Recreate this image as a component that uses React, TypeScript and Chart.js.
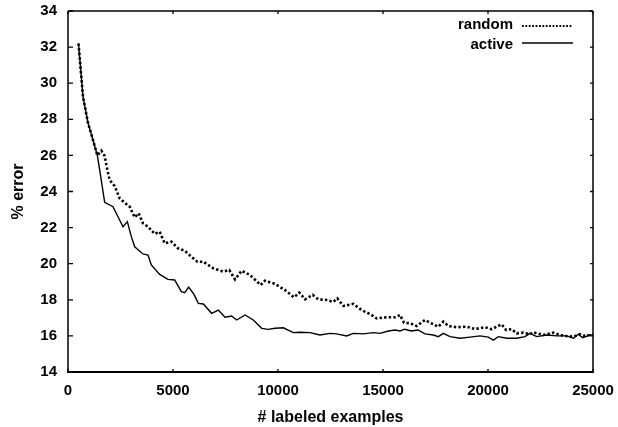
import React, { useEffect, useRef } from "react";
import { Chart, registerables } from "chart.js";

Chart.register(...registerables);

const xTicks = [0, 5000, 10000, 15000, 20000, 25000];
const yTicks = [14, 16, 18, 20, 22, 24, 26, 28, 30, 32, 34];

const randomX = [500, 714, 952, 1190, 1397, 1587, 1746, 1873, 1984, 2222, 2460, 2698, 2936, 3175, 3365, 3571, 3810, 4127, 4365, 4603, 4921, 5238, 5556, 5873, 6159, 6444, 6921, 7397, 7683, 7952, 8270, 8667, 9175, 9381, 9857, 10333, 10762, 11016, 11286, 11651, 11921, 12317, 12635, 12825, 13111, 13587, 13984, 14381, 14698, 15175, 15571, 15810, 16000, 16286, 16603, 17000, 17397, 17635, 17873, 18111, 18508, 18984, 19381, 19857, 20175, 20413, 20651, 20857, 21127, 21365, 21683, 22000, 22159, 22635, 23111, 23587, 24063, 24381, 24540, 24857, 25000];
const randomY = [32.2, 29.25, 27.8, 26.85, 26.0, 26.26, 25.97, 25.2, 24.64, 24.3, 23.62, 23.38, 23.16, 22.57, 22.79, 22.24, 22.05, 21.65, 21.77, 21.13, 21.22, 20.85, 20.72, 20.39, 20.11, 20.11, 19.74, 19.56, 19.65, 19.13, 19.61, 19.37, 18.82, 19.06, 18.88, 18.54, 18.14, 18.4, 18.03, 18.27, 18.03, 17.99, 17.88, 18.08, 17.66, 17.77, 17.43, 17.21, 16.97, 17.03, 17.03, 17.16, 16.73, 16.7, 16.55, 16.88, 16.64, 16.51, 16.79, 16.55, 16.48, 16.51, 16.38, 16.48, 16.37, 16.51, 16.64, 16.33, 16.37, 16.14, 16.18, 16.09, 16.2, 16.05, 16.18, 16.0, 15.96, 16.09, 16.0, 16.05, 16.05];

const activeX = [500, 714, 952, 1190, 1397, 1508, 1746, 2143, 2381, 2619, 2825, 3016, 3175, 3571, 3810, 3968, 4365, 4762, 5079, 5397, 5556, 5746, 6000, 6206, 6444, 6841, 7159, 7476, 7794, 8032, 8429, 8825, 9222, 9540, 9857, 10254, 10730, 11048, 11524, 12000, 12476, 12794, 13270, 13587, 14063, 14540, 14857, 15254, 15571, 15810, 16032, 16349, 16667, 17000, 17397, 17635, 17873, 18190, 18667, 19143, 19619, 20016, 20254, 20492, 20889, 21365, 21762, 22000, 22317, 22794, 23270, 23746, 24063, 24300, 24500, 24857, 25000];
const activeY = [32.2, 29.25, 27.8, 26.85, 26.0, 25.2, 23.4, 23.16, 22.6, 22.05, 22.33, 21.5, 20.94, 20.54, 20.48, 19.93, 19.41, 19.13, 19.1, 18.45, 18.4, 18.7, 18.3, 17.8, 17.77, 17.25, 17.43, 17.03, 17.1, 16.88, 17.16, 16.88, 16.42, 16.36, 16.42, 16.45, 16.18, 16.2, 16.18, 16.05, 16.14, 16.11, 16.0, 16.14, 16.11, 16.18, 16.14, 16.27, 16.33, 16.27, 16.37, 16.27, 16.33, 16.11, 16.05, 15.96, 16.14, 15.96, 15.87, 15.93, 16.0, 15.93, 15.77, 15.96, 15.87, 15.87, 15.96, 16.14, 15.96, 16.05, 16.0, 16.0, 15.87, 16.09, 15.9, 16.05, 16.05];

const seriesNames = ["random", "active"];

const FONT = "'Liberation Sans', Arial, sans-serif";

const framePlugin = {
  id: "frame",
  afterDatasetsDraw(chart: any) {
    const { ctx, chartArea } = chart;
    const { left, right, top, bottom } = chartArea;
    const xs = chart.scales.x;
    const ys = chart.scales.y;
    ctx.save();
    ctx.strokeStyle = "#000";
    ctx.lineWidth = 1.5;
    ctx.beginPath();
    ctx.moveTo(left, top);
    ctx.lineTo(right, top);
    ctx.moveTo(right, top);
    ctx.lineTo(right, bottom);
    ctx.moveTo(left, top);
    ctx.lineTo(left, bottom);
    ctx.stroke();
    ctx.lineWidth = 2.2;
    ctx.beginPath();
    ctx.moveTo(left - 1, bottom);
    ctx.lineTo(right + 1, bottom);
    ctx.stroke();
    ctx.lineWidth = 1.3;
    ctx.beginPath();
    xTicks.forEach((v) => {
      const px = xs.getPixelForValue(v);
      ctx.moveTo(px, bottom);
      ctx.lineTo(px, bottom - 3);
      ctx.moveTo(px, top);
      ctx.lineTo(px, top + 3);
    });
    yTicks.forEach((v) => {
      const py = ys.getPixelForValue(v);
      ctx.moveTo(left, py);
      ctx.lineTo(left + 5, py);
      ctx.moveTo(right, py);
      ctx.lineTo(right - 3, py);
    });
    ctx.stroke();
    ctx.font = `bold 15px ${FONT}`;
    ctx.fillStyle = "#000";
    ctx.textAlign = "right";
    ctx.textBaseline = "middle";
    const legendTextX = 513;
    const rows = [25, 45];
    ctx.fillText(seriesNames[0], legendTextX, rows[0]);
    ctx.fillText(seriesNames[1], legendTextX, rows[1]);
    ctx.lineWidth = 1.8;
    ctx.setLineDash([1.8, 1.6]);
    ctx.beginPath();
    ctx.moveTo(522, rows[0] + 1);
    ctx.lineTo(573, rows[0] + 1);
    ctx.stroke();
    ctx.setLineDash([]);
    ctx.lineWidth = 1.6;
    ctx.beginPath();
    ctx.moveTo(522, rows[1] - 2);
    ctx.lineTo(573, rows[1] - 2);
    ctx.stroke();
    ctx.restore();
  },
};

export default function App() {
  const ref = useRef<HTMLCanvasElement>(null);
  useEffect(() => {
    if (!ref.current) return;
    const chart = new Chart(ref.current, {
      type: "line",
      data: {
        datasets: [
          {
            label: seriesNames[0],
            data: randomX.map((x, i) => ({ x, y: randomY[i] })),
            borderColor: "#000",
            borderWidth: 2.6,
            borderDash: [2.4, 2.2],
            pointRadius: 0,
            tension: 0,
            fill: false,
          },
          {
            label: seriesNames[1],
            data: activeX.map((x, i) => ({ x, y: activeY[i] })),
            borderColor: "#000",
            borderWidth: 1.4,
            pointRadius: 0,
            tension: 0,
            fill: false,
          },
        ],
      },
      options: {
        responsive: false,
        animation: false,
        layout: { padding: { top: 11, right: 25, left: 0, bottom: 0 } },
        plugins: { legend: { display: false }, tooltip: { enabled: false } },
        scales: {
          x: {
            type: "linear",
            min: 0,
            max: 25000,
            afterFit: (s: any) => {
              s.height = 55;
              s.paddingLeft = 0;
              s.paddingRight = 0;
            },
            afterBuildTicks: (s: any) => {
              s.ticks = xTicks.map((v) => ({ value: v }));
            },
            grid: { display: false, drawTicks: false },
            border: { display: false },
            ticks: {
              color: "#000",
              padding: 10,
              maxRotation: 0,
              font: { family: FONT, size: 15, weight: "bold" },
              callback: (v: any) => String(v),
            },
            title: {
              display: true,
              text: "# labeled examples",
              color: "#000",
              padding: { top: 0, bottom: 0 },
              font: { family: FONT, size: 16, weight: "bold" },
            },
          },
          y: {
            type: "linear",
            min: 14,
            max: 34,
            afterFit: (s: any) => {
              s.width = 68;
              s.paddingTop = 0;
              s.paddingBottom = 0;
            },
            afterBuildTicks: (s: any) => {
              s.ticks = yTicks.map((v) => ({ value: v }));
            },
            grid: { display: false, drawTicks: false },
            border: { display: false },
            ticks: {
              color: "#000",
              padding: 11,
              font: { family: FONT, size: 15, weight: "bold" },
              callback: (v: any) => String(v),
            },
            title: {
              display: true,
              text: "% error",
              color: "#000",
              padding: { top: 9, bottom: 0 },
              font: { family: FONT, size: 16, weight: "bold" },
            },
          },
        },
      },
      plugins: [framePlugin],
    });
    return () => chart.destroy();
  }, []);
  return (
    <div style={{ position: "absolute", left: 0, top: 0, width: 618, height: 427, background: "#fff" }}>
      <canvas ref={ref} width={618} height={427} style={{ display: "block" }} />
    </div>
  );
}
